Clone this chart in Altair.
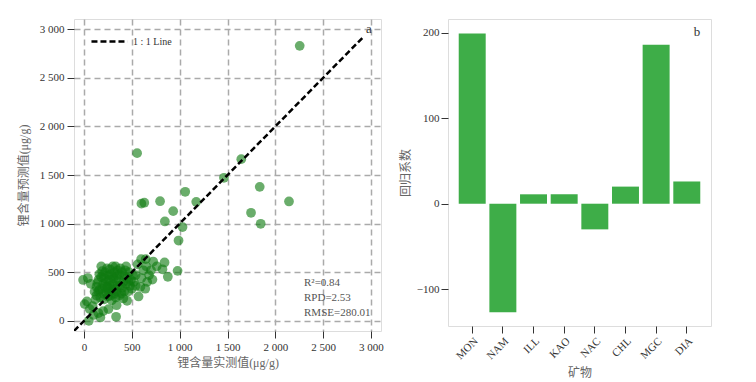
import altair as alt
import pandas as pd

# ---- panel a: measured vs predicted Li content ----
actual = [
    555, 600, 630, 795, 1058, 932, 1173, 845, 1030, 988, 1463, 1644, 1837, 1746, 1847, 2143, 2255,
    597, 645, 723, 842, 820, 876, 978, 715, 590, 660, 620, 560, 680, 640, 600, 540, 700, 760, 650,
    -10, 7, 50, 171, 335, 60, 150, 30, 90, 255, 340, 450, 570, 100, 200, 120, 40, 70,
    110, 130, 150, 160, 180, 190, 200, 210, 220, 230, 240, 250, 260, 270, 280, 290, 300, 310, 320,
    330, 340, 350, 360, 370, 380, 390, 400, 410, 420, 430, 440, 450, 460, 470, 480, 490, 500, 510,
    520, 540, 130, 170, 210, 250, 290, 330, 370, 410, 180, 230, 270, 310, 350, 200, 140, 160, 260,
    300, 340, 380, 420, 460, 190, 240, 280, 320, 150, 200, 250, 350, 400, 440, 300, 220, 270,
]
predicted = [
    1725, 1205, 1215, 1230, 1327, 1128, 1224, 1022, 964, 826, 1471, 1663, 1378, 1111, 998, 1228, 2829,
    634, 634, 610, 600, 530, 453, 514, 424, 350, 400, 520, 580, 470, 330, 440, 470, 520, 560, 560,
    420, 172, 0, 34, 41, 120, 80, 200, 150, 120, 160, 206, 250, 60, 100, 220, 440, 380,
    300, 350, 420, 480, 560, 330, 380, 440, 500, 290, 350, 410, 470, 530, 260, 320, 380, 440, 500,
    560, 300, 360, 420, 480, 540, 280, 340, 400, 460, 520, 380, 440, 300, 500, 360, 420, 330, 470,
    400, 360, 260, 240, 220, 250, 210, 240, 260, 230, 450, 400, 360, 330, 520, 280, 390, 320, 300,
    460, 410, 360, 300, 410, 510, 540, 480, 280, 300, 470, 340, 470, 500, 560, 560, 350, 420,
]

stats_labels = ["R²=0.84", "RPD=2.53", "RMSE=280.01"]
stats_x = [2300, 2300, 2300]
stats_y = [391, 237, 82]

one_to_one = [-105, 2910]
tick_vals = [0, 500, 1000, 1500, 2000, 2500, 3000]

# ---- panel b: regression coefficients ----
minerals = ["MON", "NAM", "ILL", "KAO", "NAC", "CHL", "MGC", "DIA"]
coefs = [199, -127, 11, 11, -30, 20, 186, 26]

FONT = "Liberation Serif, Noto Sans CJK SC"
LBL = "#333333"
TTL = "#666666"

scatter_df = pd.DataFrame({"actual": actual, "predicted": predicted})
line_df = pd.DataFrame({"x": one_to_one, "y": one_to_one, "lbl": ["1 : 1 Line"] * 2})
stats_df = pd.DataFrame({"t": stats_labels, "x": stats_x, "y": stats_y})
bar_df = pd.DataFrame({"mineral": minerals, "coef": coefs})

fmt = "replace(format(datum.value, ','), ',', ' ')"
dom = [-105, 3105]

def axis_a(title, tpad):
    return alt.Axis(
        values=tick_vals, labelExpr=fmt, title=title, grid=True,
        gridDash=[6, 4], gridColor="#aaaaaa", gridWidth=1.5,
        domain=False, tickColor="#333333", tickSize=7, labelFont=FONT,
        labelFontSize=11, labelColor=LBL, titleFont=FONT, titleFontSize=12,
        titleColor=TTL, titleFontWeight="normal", labelPadding=3,
        titlePadding=tpad,
    )

xa = alt.X("actual:Q", scale=alt.Scale(domain=dom, nice=False, zero=False),
           axis=axis_a("锂含量实测值(μg/g)", 5))
ya = alt.Y("predicted:Q", scale=alt.Scale(domain=dom, nice=False, zero=False),
           axis=axis_a("锂含量预测值(μg/g)", 9))

points = alt.Chart(scatter_df).mark_circle(size=95, color="#0f7a10", opacity=0.62).encode(x=xa, y=ya)

line = alt.Chart(line_df).mark_line(color="black", strokeWidth=2.5, clip=True).encode(
    x=alt.X("x:Q"), y=alt.Y("y:Q"),
    strokeDash=alt.StrokeDash(
        "lbl:N", scale=alt.Scale(range=[[6, 3]]),
        legend=alt.Legend(
            title=None, orient="none", legendX=14, legendY=1, symbolType="stroke",
            symbolSize=1300, symbolStrokeWidth=2.5, symbolStrokeColor="black",
            labelFont=FONT, labelFontSize=10, labelColor=LBL, padding=2,
        ),
    ),
)

stats = alt.Chart(stats_df).mark_text(align="left", baseline="middle", font=FONT,
                                      fontSize=11, color="#555555").encode(
    x="x:Q", y="y:Q", text="t:N")

label_a = alt.Chart(pd.DataFrame({"t": ["a"]})).mark_text(
    font=FONT, fontSize=13, color="#333333", baseline="middle").encode(
    x=alt.value(295), y=alt.value(10), text="t:N")

panel_a = alt.layer(points, line, stats, label_a).properties(width=307, height=312)

bars = alt.Chart(bar_df).mark_bar(color="#3EAD48").encode(
    x=alt.X("mineral:N", sort=minerals,
            scale=alt.Scale(paddingInner=0.12, paddingOuter=0.35),
            axis=alt.Axis(title="矿物", labelAngle=-45, labelAlign="right",
                          labelBaseline="top", domain=False, tickColor="#333333",
                          tickSize=7, labelFont=FONT, labelFontSize=11, labelColor=LBL,
                          titleFont=FONT, titleFontSize=12, titleColor=TTL,
                          titleFontWeight="normal", titlePadding=7)),
    y=alt.Y("coef:Q", scale=alt.Scale(domain=[-143, 216], nice=False, zero=False),
            axis=alt.Axis(title="回归系数", values=[-100, 0, 100, 200], grid=False,
                          domain=False, tickColor="#333333", tickSize=7, labelPadding=2,
                          labelFont=FONT, labelFontSize=11, labelColor=LBL,
                          titleFont=FONT, titleFontSize=12, titleColor=TTL,
                          titleFontWeight="normal", titlePadding=4)),
)

label_b = alt.Chart(pd.DataFrame({"t": ["b"]})).mark_text(
    font=FONT, fontSize=13, color="#333333", baseline="middle").encode(
    x=alt.value(249), y=alt.value(13), text="t:N")

panel_b = alt.layer(bars, label_b).properties(width=263, height=307)

chart = alt.hconcat(panel_a, panel_b, spacing=14).properties(
    padding={"left": 8, "top": 10, "right": 5, "bottom": 5}
).configure_view(
    stroke="#333333", strokeWidth=1.5
).configure(background="white")

chart.save("out.html", embed_options={"renderer": "svg", "actions": False})
